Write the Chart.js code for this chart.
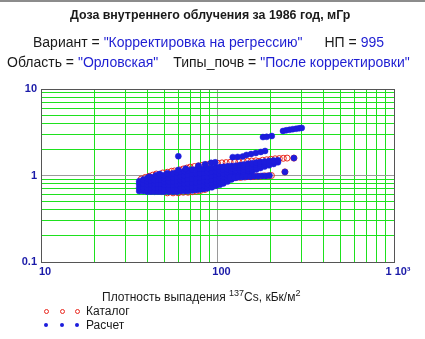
<!DOCTYPE html>
<html><head><meta charset="utf-8">
<script src="https://cdn.jsdelivr.net/npm/chart.js@4"></script>
<style>
html,body{margin:0;padding:0;background:#fff;}
#wrap{position:relative;width:425px;height:339px;overflow:hidden;font-family:"Liberation Sans",Arial,sans-serif;background:#fff;}
#wrap canvas{position:absolute;left:0;top:0;}
.t{position:absolute;white-space:nowrap;line-height:14px;font-size:14px;color:#1a1a1a;}
.v{color:#1e1ed2}
.dot{position:absolute;border-radius:50%;}
</style></head>
<body><div id="wrap">
<div style="position:absolute;left:0;top:0;width:425px;height:2px;background:#8c8c8c"></div>
<canvas id="c" width="425" height="339"></canvas>
<div class="t" style="left:70px;top:9px;font-size:12.4px;line-height:12px;font-weight:bold">Доза внутреннего облучения за 1986 год, мГр</div>
<div class="t" style="left:33px;top:35px">Вариант = <span class="v">"Корректировка на регрессию"</span><span style="display:inline-block;width:22px"></span>НП = <span class="v">995</span></div>
<div class="t" style="left:7px;top:55px">Область = <span class="v">"Орловская"</span><span style="display:inline-block;width:15px"></span>Типы_почв = <span class="v">"После корректировки"</span></div>
<div class="t" style="left:102px;top:287px;font-size:12px;line-height:12px">Плотность выпадения <sup style="font-size:9px;vertical-align:5px">137</sup>Cs, кБк/м<sup style="font-size:9px;vertical-align:5px">2</sup></div>
<div class="t" style="left:86px;top:305px;font-size:12px;line-height:12px">Каталог</div>
<div class="t" style="left:86px;top:319px;font-size:12px;line-height:12px">Расчет</div>
<div id="leg"></div>
</div>
<script>
// ---- tick values and labels ----
const xTicks = [10,20,30,40,50,60,70,80,90,100,200,300,400,500,600,700,800,900,1000];
const yTicks = [0.1,0.2,0.3,0.4,0.5,0.6,0.7,0.8,0.9,1,2,3,4,5,6,7,8,9,10];
const xLabelValues = [10,100,1000];
const xLabelTexts = ['10','100','1 10³'];
const yLabelValues = [0.1,1,10];
const yLabelTexts = ['0.1','1','10'];

// ---- Расчет (blue): dense band ----
const calcBand = [
[36,0.66],[36,0.72],[36,0.79],[36,0.86],
[38,0.66],[38,0.73],[38,0.81],[38,0.90],
[40,0.65],[40,0.72],[40,0.79],[40,0.86],[40,0.93],
[42,0.65],[42,0.72],[42,0.79],[42,0.87],[42,0.95],
[44,0.65],[44,0.72],[44,0.80],[44,0.88],[44,0.97],
[46,0.65],[46,0.72],[46,0.80],[46,0.89],[46,0.98],
[48,0.65],[48,0.72],[48,0.80],[48,0.89],[48,1.00],
[50,0.65],[50,0.71],[50,0.78],[50,0.85],[50,0.93],[50,1.01],
[53,0.65],[53,0.71],[53,0.78],[53,0.86],[53,0.94],[53,1.03],
[56,0.65],[56,0.71],[56,0.78],[56,0.86],[56,0.95],[56,1.06],
[59,0.65],[59,0.71],[59,0.79],[59,0.87],[59,0.97],[59,1.08],
[62,0.66],[62,0.72],[62,0.80],[62,0.88],[62,0.98],[62,1.10],
[65,0.66],[65,0.73],[65,0.81],[65,0.90],[65,1.00],[65,1.12],
[68,0.66],[68,0.73],[68,0.81],[68,0.91],[68,1.02],[68,1.15],
[72,0.67],[72,0.74],[72,0.82],[72,0.92],[72,1.04],[72,1.17],
[76,0.68],[76,0.75],[76,0.83],[76,0.93],[76,1.05],[76,1.18],
[80,0.69],[80,0.76],[80,0.84],[80,0.94],[80,1.06],[80,1.19],
[84,0.70],[84,0.77],[84,0.86],[84,0.96],[84,1.08],[84,1.20],
[88,0.71],[88,0.79],[88,0.87],[88,0.97],[88,1.09],[88,1.21],
[93,0.73],[93,0.81],[93,0.89],[93,0.99],[93,1.10],[93,1.22],
[98,0.76],[98,0.84],[98,0.92],[98,1.02],[98,1.12],[98,1.24],
[103,0.78],[103,0.86],[103,0.95],[103,1.04],[103,1.14],[103,1.25],
[108,0.81],[108,0.89],[108,0.97],[108,1.06],[108,1.16],[108,1.26],
[114,0.85],[114,0.93],[114,1.01],[114,1.09],[114,1.18],[114,1.28],
[120,0.90],[120,0.97],[120,1.05],[120,1.13],[120,1.21],[120,1.29],
[127,0.94],[127,1.01],[127,1.08],[127,1.15],[127,1.22],[127,1.30],
[134,0.98],[134,1.06],[134,1.14],[134,1.23],[134,1.32],
[141,1.02],[141,1.09],[141,1.17],[141,1.25],[141,1.34],
[149,1.07],[149,1.14],[149,1.21],[149,1.29],[149,1.37],
[157,1.12],[157,1.18],[157,1.25],[157,1.32],[157,1.39],
[166,1.17],[166,1.24],[166,1.32],[166,1.41],
[175,1.22],[175,1.29],[175,1.36],[175,1.43],
[185,1.27],[185,1.33],[185,1.39],[185,1.45],
[196,1.31],[196,1.39],[196,1.47],
[208,1.36],[208,1.43],[208,1.49],
[220,1.42],[220,1.50]
];
// ---- Расчет (blue): upper tail, streaks and stray points ----
const calcTail = [
[41,0.97],[45,1.01],[47,1.04],[52,1.06],
[60,1.16],[66,1.20],[60,1.67],
[78,1.30],[85,1.35],[92,1.40],[97,1.42],
[122,1.63],[130,1.64],[139,1.66],
[146,1.73],[155,1.77],[165,1.82],[176,1.87],[186,1.92],
[181,2.78],[190,2.80],[203,2.86],
[235,3.27],[245,3.33],[256,3.38],[267,3.43],[279,3.47],[290,3.51],[300,3.55],
[241,1.10],[271,1.59]
];
const calcLow = [
[118,0.95],[125,0.95],[132,0.96],[139,0.96],[146,0.97],[154,0.97],
[162,0.98],[170,0.98],[179,0.99],[188,0.99],[197,1.00]
];

// ---- Каталог (red) ----
const catUpper = [
[37,0.91],[39,0.95],[41,0.98],[43,1.01],[45,1.04],[49,1.07],[52,1.09],[55,1.12],
[57,1.13],[61,1.16],[64,1.19],[67,1.22],[70,1.25],[74,1.27],[78,1.29],[82,1.31],
[86,1.33],[90,1.35],[95,1.37],[100,1.39],[106,1.40],[112,1.41],[118,1.42],[125,1.43],
[132,1.44],[140,1.45],[148,1.46],[156,1.47],[165,1.48],[172,1.46],[180,1.50],[190,1.52],
[200,1.54],[212,1.56],[224,1.57],[236,1.58],[248,1.59]
];
const catLower = [
[52,0.63],[56,0.63],[60,0.63],[64,0.64],[68,0.64],[72,0.65],[76,0.66],[80,0.67],[85,0.69],
[121,0.94],[128,0.95],[135,0.95],[143,0.96],[151,0.97],[159,0.97],[167,0.98],[175,0.98],
[184,0.99],[193,0.99],[202,1.00],[241,1.10],[271,1.59]
];
const catInner = [
[40,0.75],[45,0.80],[50,0.75],[55,0.85],[60,0.80],[65,0.95],[70,0.75],[75,0.90],
[80,1.00],[85,0.80],[90,1.10],[95,0.90],[100,1.00],[110,1.10],[120,1.20],[130,1.10],
[140,1.20],[150,1.30],[160,1.30],[170,1.30],[180,1.35],[190,1.40],[200,1.45],[210,1.45]
];

const toPts = arr => arr.map(p => ({x:p[0], y:p[1]}));
const catalog = toPts([].concat(catInner, catLower, catUpper));
const calc = toPts([].concat(calcBand, calcLow, calcTail));

const BLUE = '#1c1cdc', RED = '#e8281e';
const GREEN = 'rgb(30,225,30)', GRAY = '#9a9a9a', DARK = '#555';
const FONT = '"Liberation Sans", Arial, sans-serif';

function gridColor(v, labels, edge){
  if (v === edge) return DARK;
  return labels.includes(v) ? GRAY : GREEN;
}

new Chart(document.getElementById('c'), {
  type: 'scatter',
  data: { datasets: [
    { label:'Каталог', data: catalog, order:2, pointStyle:'circle', pointRadius:3,
      pointBorderWidth:1, pointBorderColor:RED, pointBackgroundColor:'rgba(255,255,255,0)',
      borderColor:RED, backgroundColor:'rgba(255,255,255,0)', showLine:false },
    { label:'Расчет', data: calc, order:1, pointStyle:'circle', pointRadius:3,
      pointBorderWidth:0.5, pointBorderColor:BLUE, pointBackgroundColor:BLUE,
      borderColor:BLUE, backgroundColor:BLUE, showLine:false }
  ]},
  options: {
    responsive:false, animation:false, devicePixelRatio:1,
    layout:{ padding:{ left:0, top:89, right:31, bottom:57 } },
    plugins:{ legend:{display:false}, tooltip:{enabled:false}, title:{display:false} },
    scales:{
      x:{ type:'logarithmic', min:10, max:1000,
        afterBuildTicks: s => { s.ticks = xTicks.map(v => ({value:v})); },
        afterFit: s => { s.height = 20; },
        grid:{ color: c => gridColor(c.tick ? c.tick.value : 0, xLabelValues, 1000), lineWidth:1, drawTicks:false },
        border:{ color:DARK, width:1 },
        ticks:{ autoSkip:false, maxRotation:0, padding:3, labelOffset:4, color:'#1a1aa8',
          font:{ family:FONT, size:11, weight:'bold' },
          callback: v => { const i = xLabelValues.indexOf(v); return i >= 0 ? xLabelTexts[i] : ''; } }
      },
      y:{ type:'logarithmic', min:0.1, max:10,
        afterBuildTicks: s => { s.ticks = yTicks.map(v => ({value:v})); },
        afterFit: s => { s.width = 41; },
        grid:{ color: c => gridColor(c.tick ? c.tick.value : 0, yLabelValues, 10), lineWidth:1, drawTicks:false },
        border:{ color:DARK, width:1 },
        ticks:{ autoSkip:false, padding:4, color:'#1a1aa8',
          font:{ family:FONT, size:11, weight:'bold' },
          callback: v => { const i = yLabelValues.indexOf(v); return i >= 0 ? yLabelTexts[i] : ''; } }
      }
    }
  }
});

// legend markers (three symbols per series)
const leg = document.getElementById('leg');
[46,62,77].forEach(cx => {
  const a = document.createElement('div'); a.className='dot';
  a.style.cssText += `left:${cx-2.5}px;top:${311-2.5}px;width:3px;height:3px;border:1px solid ${RED};`;
  leg.appendChild(a);
  const b = document.createElement('div'); b.className='dot';
  b.style.cssText += `left:${cx-2}px;top:${325-2}px;width:4px;height:4px;background:${BLUE};`;
  leg.appendChild(b);
});
</script>
</body></html>
